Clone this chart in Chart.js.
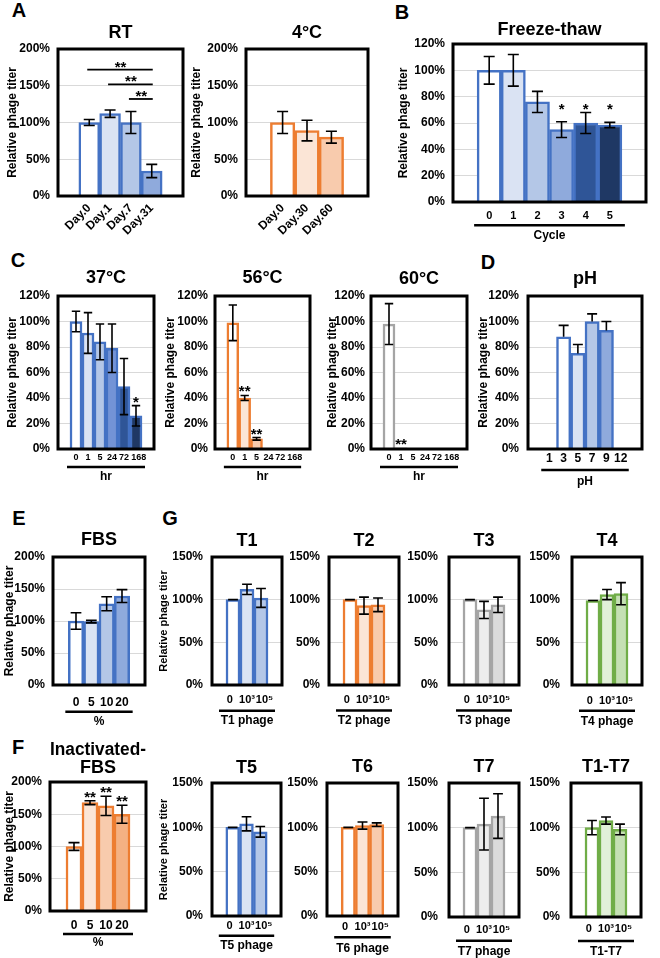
<!DOCTYPE html>
<html>
<head>
<meta charset="utf-8">
<script src="https://cdn.jsdelivr.net/npm/chart.js@4.4.1/dist/chart.umd.min.js"></script>
<style>
  body { margin: 0; background: #fff; }
  #fig { position: relative; width: 660px; height: 958px; overflow: hidden;
         font-family: 'Liberation Sans', Arial, sans-serif; font-weight: bold; }
  #fig canvas { position: absolute; }
  .tag { position: absolute; font-size: 20px; line-height: 20px; transform: translate(-50%, -50%); }
</style>
</head>
<body>
<div id="fig">
  <div class="tag" style="left:19px;top:10px">A</div>
  <div class="tag" style="left:402px;top:12px">B</div>
  <div class="tag" style="left:18px;top:260px">C</div>
  <div class="tag" style="left:488px;top:262px">D</div>
  <div class="tag" style="left:19px;top:518px">E</div>
  <div class="tag" style="left:170px;top:518px">G</div>
  <div class="tag" style="left:18px;top:747px">F</div>
</div>
<script>
// --- datos ---
const rtDays = ['Day.0', 'Day.1', 'Day.7', 'Day.31'];
const rtTiter = [100, 112, 100, 34];
const rtSd = [4, 5, 15, 9];
const rtPairs = [[0, 3], [1, 3], [2, 3]];
const rtPairLevels = [172, 152, 132];
const rtPairStars = ['**', '**', '**'];

const coldDays = ['Day.0', 'Day.30', 'Day.60'];
const coldTiter = [100, 89, 80];
const coldSd = [15, 14, 8];

const cycles = ['0', '1', '2', '3', '4', '5'];
const cycleTiter = [100, 100, 76, 55, 60, 58.5];
const cycleSd = [10.5, 12, 8, 6, 8, 2];
const cycleStars = ['', '', '', '*', '*', '*'];

const hours = ['0', '1', '5', '24', '72', '168'];
const t37Titer = [100, 91, 84, 79, 49, 26];
const t37Sd = [8, 16, 14, 19, 22, 8];
const t37Stars = ['', '', '', '', '', '*'];
const t56Titer = [99, 40, 8, 0, 0, 0];
const t56Sd = [14, 2, 1, null, null, null];
const t56Stars = ['', '**', '**', '', '', ''];
const t60Titer = [98, 1, 0, 0, 0, 0];
const t60Sd = [16, null, null, null, null, null];
const t60Stars = ['', '**', '', '', '', ''];

const phLevels = ['1', '3', '5', '7', '9', '12'];
const phTiter = [0, 88, 75, 100, 93, 0];
const phSd = [null, 9, 7, 6, 7, null];

const serumPct = ['0', '5', '10', '20'];
const fbsTiter = [100, 99, 127, 139];
const fbsSd = [13, 2, 11, 10];
const hiFbsTiter = [100, 168, 163, 150];
const hiFbsSd = [6, 3, 15, 14];
const hiFbsStars = ['', '**', '**', '**'];

const phageDose = ['0', '10³', '10⁵'];
const t1Titer = [100, 112, 102];   const t1Sd = [0, 6, 11];
const t2Titer = [100, 93, 94];     const t2Sd = [0, 10, 8];
const t3Titer = [100, 88, 94];     const t3Sd = [0, 10, 9];
const t4Titer = [99, 106, 107];    const t4Sd = [0, 6, 13];
const t5Titer = [100, 104, 95];    const t5Sd = [0, 8, 6];
const t6Titer = [100, 102, 103];   const t6Sd = [0, 4, 2];
const t7Titer = [100, 104, 113];   const t7Sd = [0, 29, 25];
const tAllTiter = [100, 108, 98];  const tAllSd = [8, 4, 6];

// --- estilos ---
const BLUE = '#4472C4', ORANGE = '#ED7D31', GRAY = '#A5A5A5', GREEN = '#70AD47';
const blueFills = ['#FFFFFF', '#DAE3F3', '#B4C7E7', '#8FAADC', '#2F5597', '#1F3864'];
const blue37Fills = ['#FFFFFF', '#DAE3F3', '#B4C7E7', '#7393D6', '#2F5597', '#1F3864'];
const phFills = ['#FFFFFF', '#FFFFFF', '#DAE3F3', '#B4C7E7', '#8FAADC', '#8FAADC'];
const orangeFills = ['#FFFFFF', '#FBE5D6', '#F8CBAD', '#F4B183', '#F4B183', '#F4B183'];
const grayFills = ['#FFFFFF', '#EDEDED', '#DBDBDB', '#DBDBDB', '#DBDBDB', '#DBDBDB'];
const greenFills = ['#FFFFFF', '#E2F0D9', '#C5E0B4'];
const doseShift = [-0.22, 0, 0.25];
const hourShift = [0, 0, 0, 0, 0, 0.22];
const FONT = "'Liberation Sans', Arial, sans-serif";

Chart.defaults.font.family = FONT;
Chart.defaults.font.weight = 'bold';
Chart.defaults.color = '#000';

function drawDeco(chart, p) {
  const ctx = chart.ctx, a = chart.chartArea, ys = chart.scales.y;
  const bars = chart.getDatasetMeta(0).data;
  ctx.save();
  ctx.strokeStyle = '#000';
  ctx.fillStyle = '#000';
  // marco
  ctx.lineWidth = 3;
  ctx.strokeRect(a.left, a.top, a.right - a.left, a.bottom - a.top);
  // barras de error
  ctx.lineWidth = 1.6;
  p.sd.forEach((e, i) => {
    if (e == null) return;
    const v = p.values[i];
    const bx = bars[i].x, half = Math.min(5.5, bars[i].width * 0.35);
    const top = ys.getPixelForValue(v + e);
    const bot = ys.getPixelForValue(p.plusOnly ? v : v - e);
    ctx.beginPath();
    ctx.moveTo(bx, top); ctx.lineTo(bx, bot);
    ctx.moveTo(bx - half, top); ctx.lineTo(bx + half, top);
    if (!p.plusOnly) { ctx.moveTo(bx - half, bot); ctx.lineTo(bx + half, bot); }
    ctx.stroke();
  });
  // asteriscos
  ctx.font = 'bold 15px ' + FONT;
  ctx.textAlign = 'center';
  ctx.textBaseline = 'alphabetic';
  (p.stars || []).forEach((s, i) => {
    if (!s) return;
    const yy = p.starLevel != null ? ys.getPixelForValue(p.starLevel)
                                   : ys.getPixelForValue(p.values[i] + (p.sd[i] || 0)) + 1;
    ctx.fillText(s, bars[i].x, yy);
  });
  // comparaciones
  (p.pairs || []).forEach(([i, j], k) => {
    const yy = ys.getPixelForValue(p.pairLevels[k]);
    ctx.lineWidth = 1.8;
    ctx.beginPath(); ctx.moveTo(bars[i].x - 2, yy); ctx.lineTo(bars[j].x + 1, yy); ctx.stroke();
    ctx.fillText(p.pairStars[k], (bars[i].x + bars[j].x) / 2, yy + 2);
  });
  ctx.restore();
}

function drawUnderline(chart, p) {
  if (!p.xTitle) return;
  const ctx = chart.ctx, xs = chart.scales.x;
  const ext = p.lineExt != null ? p.lineExt : 3;
  const x0 = xs.getPixelForValue(-0.5) - ext;
  const x1 = xs.getPixelForValue(p.labels.length - 0.5) + ext;
  const y = p.lineY - p._T;
  ctx.save();
  ctx.strokeStyle = '#000';
  ctx.lineWidth = 2.5;
  ctx.beginPath(); ctx.moveTo(x0, y); ctx.lineTo(x1, y); ctx.stroke();
  ctx.restore();
}

function panel(p) {
  const [l, t, r, b] = p.frame;
  const lines = Array.isArray(p.title) ? p.title.length : 1;
  const leftRaw = p.yTitleX != null ? p.yTitleX - 7.2 : l - 46;
  const topRaw = p.titleY - 9;
  const bottomRaw = p.xTitle ? p.xTitleY + 7.2 : b + 45;
  const L = Math.floor(leftRaw), T = Math.floor(topRaw);
  const W = Math.ceil(r + 3) - L, H = Math.ceil(bottomRaw) - T;
  p._T = T;
  const tickSize = p.tickSize || 11;
  const tickPad = p.tickY != null ? p.tickY - b - 0.6 * tickSize : (p.tickPad || 3);
  const n = p.labels.length;
  const shift = p.tickShift || p.labels.map(() => 0);

  const cv = document.createElement('canvas');
  cv.width = W; cv.height = H;
  cv.style.left = L + 'px'; cv.style.top = T + 'px';
  document.getElementById('fig').appendChild(cv);

  new Chart(cv.getContext('2d'), {
    type: 'bar',
    data: {
      datasets: [{
        data: p.values.map((v, i) => ({ x: i, y: v })),
        backgroundColor: p.fills,
        borderColor: p.border,
        borderWidth: 2.5,
        barPercentage: 1,
        categoryPercentage: 1
      }]
    },
    options: {
      responsive: false,
      animation: false,
      devicePixelRatio: 1,
      events: [],
      layout: { padding: { left: 0, top: 0, bottom: 0, right: L + W - r } },
      plugins: {
        legend: { display: false },
        tooltip: { enabled: false },
        title: {
          display: true, text: p.title, fullSize: false, color: '#000',
          font: { size: 18, weight: 'bold', lineHeight: 1 },
          padding: { top: topRaw - T, bottom: t - topRaw - 18 * lines }
        }
      },
      scales: {
        x: {
          type: 'linear', offset: false,
          min: -1.5, max: n + 0.5,
          afterBuildTicks: s => { s.ticks = p.labels.map((lab, i) => ({ value: i + shift[i] })); },
          afterFit: s => { s.height = T + H - b; },
          grid: { display: false, drawTicks: false },
          border: { display: false },
          ticks: {
            autoSkip: false,
            minRotation: p.rotate || 0, maxRotation: p.rotate || 0,
            padding: tickPad,
            font: { size: tickSize },
            callback: (v, i) => p.labels[i]
          },
          title: {
            display: !!p.xTitle, text: p.xTitle || '',
            font: { size: 12 },
            padding: { top: 0, bottom: T + H - bottomRaw }
          }
        },
        y: {
          min: 0, max: p.yMax,
          afterFit: s => { s.width = l - L; },
          grid: { color: '#D9D9D9', lineWidth: 1, drawTicks: false },
          border: { display: false },
          ticks: {
            stepSize: p.yStep, padding: p.yPad || 8,
            font: { size: 12 },
            callback: v => v + '%'
          },
          title: {
            display: p.yTitleX != null, text: 'Relative phage titer',
            font: { size: p.yTitleSize || 12 },
            padding: { top: leftRaw - L, bottom: 0 }
          }
        }
      }
    },
    plugins: [{
      id: 'deco',
      afterDatasetsDraw: chart => drawDeco(chart, p),
      afterDraw: chart => drawUnderline(chart, p)
    }]
  });
}

const panels = [
  { frame: [58, 49, 183, 196], titleY: 33, title: 'RT', yTitleX: 13, yMax: 200, yStep: 50,
    labels: rtDays, values: rtTiter, sd: rtSd, fills: blueFills, border: BLUE,
    rotate: 45, tickSize: 12, tickPad: 5,
    pairs: rtPairs, pairLevels: rtPairLevels, pairStars: rtPairStars },
  { frame: [246, 49, 368, 196], titleY: 33, title: '4°C', yTitleX: 197, yMax: 200, yStep: 50,
    labels: coldDays, values: coldTiter, sd: coldSd, fills: orangeFills, border: ORANGE,
    rotate: 45, tickSize: 12, tickPad: 5 },
  { frame: [453, 44, 646, 202], titleY: 30, title: 'Freeze-thaw', yTitleX: 404, yMax: 120, yStep: 20,
    labels: cycles, values: cycleTiter, sd: cycleSd, stars: cycleStars, starLevel: 67,
    fills: blueFills, border: BLUE, tickSize: 11, tickY: 216, lineY: 225.3, xTitle: 'Cycle', xTitleY: 236 },
  { frame: [58, 296, 154, 449], titleY: 278, title: '37°C', yTitleX: 13, yMax: 120, yStep: 20,
    labels: hours, values: t37Titer, sd: t37Sd, stars: t37Stars, tickShift: hourShift,
    fills: blue37Fills, border: BLUE, tickSize: 9, tickY: 458, lineY: 467, xTitle: 'hr', xTitleY: 477 },
  { frame: [215, 296, 310, 449], titleY: 278, title: '56°C', yTitleX: 171, yMax: 120, yStep: 20, yPad: 7,
    labels: hours, values: t56Titer, sd: t56Sd, stars: t56Stars, tickShift: hourShift,
    fills: orangeFills, border: ORANGE, tickSize: 9, tickY: 458, lineY: 467, xTitle: 'hr', xTitleY: 477 },
  { frame: [371, 296, 467, 449], titleY: 279, title: '60°C', yTitleX: 333, yMax: 120, yStep: 20, yPad: 6,
    labels: hours, values: t60Titer, sd: t60Sd, stars: t60Stars, tickShift: hourShift,
    fills: grayFills, border: GRAY, tickSize: 9, tickY: 458, lineY: 467, xTitle: 'hr', xTitleY: 477 },
  { frame: [528, 296, 642, 449], titleY: 279, title: 'pH', yTitleX: 484, yMax: 120, yStep: 20, yPad: 9,
    labels: phLevels, values: phTiter, sd: phSd, plusOnly: true,
    fills: phFills, border: BLUE, tickSize: 12, tickY: 458.5, lineY: 470, lineExt: 1, xTitle: 'pH', xTitleY: 482 },
  { frame: [53, 557, 145, 685], titleY: 540, title: 'FBS', yTitleX: 10, yMax: 200, yStep: 50,
    labels: serumPct, values: fbsTiter, sd: fbsSd,
    fills: blueFills, border: BLUE, tickSize: 12, tickY: 703, lineY: 711.7, xTitle: '%', xTitleY: 722 },
  { frame: [212, 557, 282, 685], titleY: 541, title: 'T1', yTitleX: 165, yTitleSize: 11, yMax: 150, yStep: 50, yPad: 9,
    labels: phageDose, values: t1Titer, sd: t1Sd, tickShift: doseShift,
    fills: blueFills, border: BLUE, tickSize: 11, tickY: 700, lineY: 710.7, lineExt: 7, xTitle: 'T1 phage', xTitleY: 720.7 },
  { frame: [329, 557, 399, 685], titleY: 541, title: 'T2', yMax: 150, yStep: 50, yPad: 9,
    labels: phageDose, values: t2Titer, sd: t2Sd, tickShift: doseShift,
    fills: orangeFills, border: ORANGE, tickSize: 11, tickY: 700, lineY: 710.5, lineExt: 7, xTitle: 'T2 phage', xTitleY: 720.7 },
  { frame: [449, 557, 519, 685], titleY: 541, title: 'T3', yMax: 150, yStep: 50, yPad: 11,
    labels: phageDose, values: t3Titer, sd: t3Sd, tickShift: doseShift,
    fills: grayFills, border: GRAY, tickSize: 11, tickY: 700, lineY: 710.5, lineExt: 7, xTitle: 'T3 phage', xTitleY: 720.7 },
  { frame: [572, 557, 642, 685], titleY: 541, title: 'T4', yMax: 150, yStep: 50, yPad: 12,
    labels: phageDose, values: t4Titer, sd: t4Sd, tickShift: doseShift,
    fills: greenFills, border: GREEN, tickSize: 11, tickY: 700.7, lineY: 710.7, lineExt: 7, xTitle: 'T4 phage', xTitleY: 721.7 },
  { frame: [50, 782, 146, 911], titleY: 750, title: ['Inactivated-', 'FBS'], yTitleX: 10, yMax: 200, yStep: 50,
    labels: serumPct, values: hiFbsTiter, sd: hiFbsSd, stars: hiFbsStars,
    fills: orangeFills, border: ORANGE, tickSize: 12, tickY: 926, lineY: 934, xTitle: '%', xTitleY: 943 },
  { frame: [212, 783, 281, 916], titleY: 768, title: 'T5', yTitleX: 165, yTitleSize: 11, yMax: 150, yStep: 50, yPad: 9,
    labels: phageDose, values: t5Titer, sd: t5Sd, tickShift: doseShift,
    fills: blueFills, border: BLUE, tickSize: 11, tickY: 926, lineY: 935.7, lineExt: 7, xTitle: 'T5 phage', xTitleY: 945.7 },
  { frame: [327, 783, 398, 916], titleY: 767, title: 'T6', yMax: 150, yStep: 50, yPad: 9,
    labels: phageDose, values: t6Titer, sd: t6Sd, tickShift: doseShift,
    fills: orangeFills, border: ORANGE, tickSize: 11, tickY: 926.7, lineY: 937.3, lineExt: 7, xTitle: 'T6 phage', xTitleY: 948.3 },
  { frame: [449, 783, 519, 917], titleY: 767, title: 'T7', yMax: 150, yStep: 50, yPad: 11,
    labels: phageDose, values: t7Titer, sd: t7Sd, tickShift: doseShift,
    fills: grayFills, border: GRAY, tickSize: 11, tickY: 930, lineY: 940.7, lineExt: 7, xTitle: 'T7 phage', xTitleY: 951.7 },
  { frame: [571, 783, 641, 917], titleY: 767, title: 'T1-T7', yMax: 150, yStep: 50, yPad: 11,
    labels: phageDose, values: tAllTiter, sd: tAllSd, tickShift: doseShift,
    fills: greenFills, border: GREEN, tickSize: 11, tickY: 929, lineY: 941, lineExt: 7, xTitle: 'T1-T7', xTitleY: 951.7 }
];

panels.forEach(panel);
</script>
</body>
</html>
